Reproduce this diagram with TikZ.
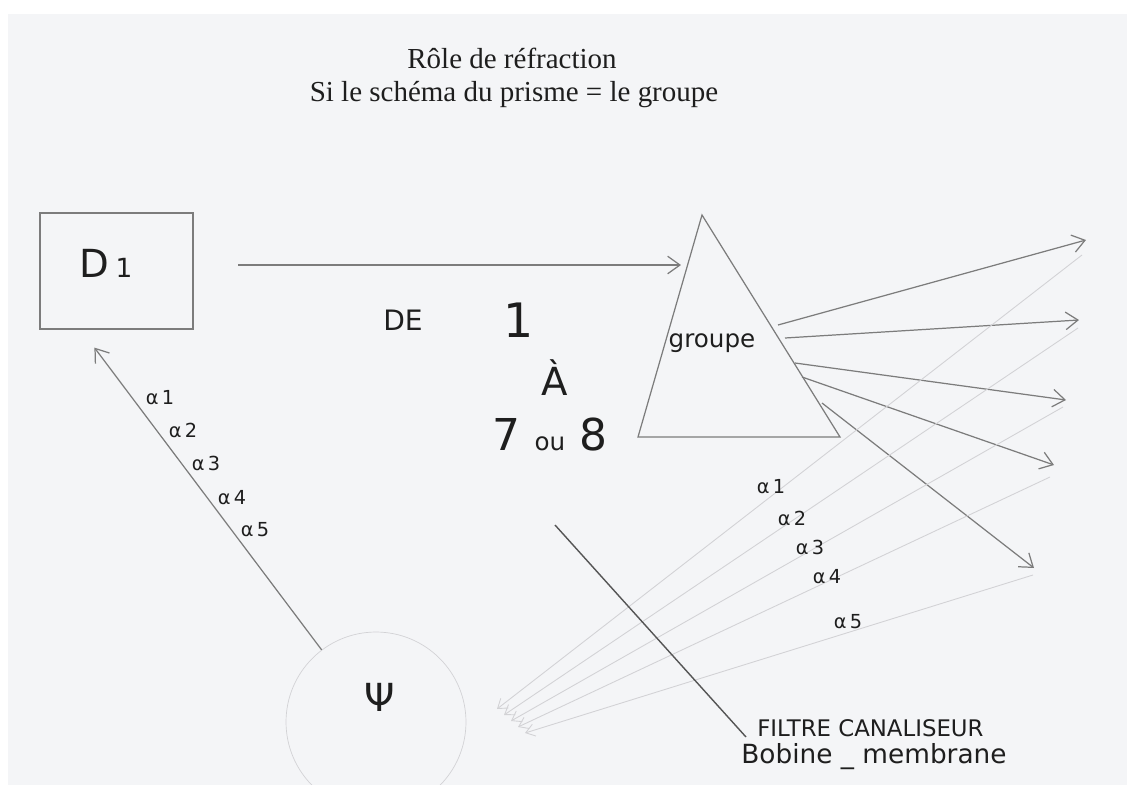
\documentclass[tikz,border=0pt]{standalone}
\usepackage{fontspec}
\setmainfont{Liberation Serif}
\newfontfamily\mainhand{DejaVu Sans}
\usetikzlibrary{arrows.meta,calc}
\definecolor{rfrpaper}{HTML}{F4F5F7}
\definecolor{rfrpencil}{HTML}{7C7C7C}
\definecolor{rfrdark}{HTML}{555555}
\definecolor{rfrghostc}{HTML}{D2D2D5}
\definecolor{rfrink}{HTML}{1E1E1E}

\begin{document}
\begin{tikzpicture}[x=0.02cm, y=-0.02cm,
  rfrline/.style = {draw=rfrpencil, line width=0.7pt},
  rfrghost/.style = {draw=rfrghostc, line width=0.5pt},
  rfrarr/.style = {rfrline, -{Straight Barb[length=7pt, width=10pt]}},
  rfrghostarr/.style = {rfrghost, -{Straight Barb[length=5pt, width=7pt]}},
  rfrhand/.style = {font=\mainhand, text=rfrink, inner sep=0pt},
  rfralpha/.style = {rfrhand, font=\mainhand\fontsize{11}{11}\selectfont}
]
  % feuille
  \useasboundingbox (0,0) rectangle (1127,785);
  \fill[rfrpaper] (8,14) rectangle (1140,800);
  % titre
  \node[font=\fontsize{16.5}{19}\selectfont, text=rfrink] (titre) at (512,58) {Rôle de réfraction};
  \node[font=\fontsize{16.5}{19}\selectfont, text=rfrink] (soustitre) at (514,95) {Si le schéma du prisme = le groupe};
  % boite D1
  \node[rfrline, minimum width=3.06cm, minimum height=2.32cm] (d1) at (116.5,271) {};
  \node[rfrhand, font=\mainhand\fontsize{22}{22}\selectfont] (d1txt) at (106,263) {D\,{\fontsize{15}{15}\selectfont 1}};
  % prisme
  \coordinate (apex) at (702,215);
  \coordinate (pbl) at (638,437);
  \coordinate (pbr) at (840,437);
  \draw[rfrline] (apex) -- (pbl) -- (pbr) -- cycle;
  \node[rfrhand, font=\mainhand\fontsize{14}{14}\selectfont] (groupe) at (712,343) {groupe};
  % faisceau incident
  \coordinate (inc0) at (238,265);
  \coordinate (inc1) at (681,265);
  \draw[rfrarr] (inc0) -- (inc1);
  % de 1 a 7 ou 8
  \node[rfrhand, font=\mainhand\fontsize{16}{16}\selectfont] (de) at (403,320) {DE};
  \node[rfrhand, font=\mainhand\fontsize{27}{27}\selectfont] (un) at (519,320) {1};
  \node[rfrhand, font=\mainhand\fontsize{22}{22}\selectfont] (a) at (555,378) {À};
  \node[rfrhand, font=\mainhand\fontsize{25}{25}\selectfont] (sept) at (550,435) {7 {\fontsize{14}{14}\selectfont ou} 8};
  % rayons refractes
  \foreach \sx/\sy/\ex/\ey [count=\i] in {778/325/1086/240, 785/338/1079/320, 795/363/1066/400, 802/377/1054/465, 822/403/1034/568}{
    \coordinate (rs\i) at (\sx,\sy);
    \coordinate (re\i) at (\ex,\ey);
    \draw[rfrarr] (rs\i) -- (re\i);
  }
  % retour vers psi
  \node[circle, draw=rfrghostc, minimum size=3.6cm] (psi) at (376,722) {};
  \node[rfrhand, font=\mainhand\fontsize{22}{22}\selectfont] (psitxt) at (380,697) {Ψ};
  \foreach \sx/\sy/\ex/\ey [count=\i] in {1082/255/497/709, 1078/328/504/715, 1063/407/511/721, 1050/477/518/727, 1033/575/525/733}{
    \coordinate (fs\i) at (\sx,\sy);
    \coordinate (fe\i) at (\ex,\ey);
    \draw[rfrghostarr] (fs\i) -- (fe\i);
  }
  \foreach \lx/\ly [count=\i] in {771/487, 792/518, 810/547, 827/577, 848/622}
    \node[rfralpha] (ad\i) at (\lx,\ly) {α\,\i};
  % psi vers D1
  \coordinate (d1in) at ($(d1.south west)+(55,18)$);
  \draw[rfrarr] (psi.127) -- (d1in);
  \foreach \lx/\ly [count=\i] in {160/398, 183/430, 206/463, 232/498, 255/530}
    \node[rfralpha] (ag\i) at (\lx,\ly) {α\,\i};
  % filtre
  \node[rfrhand, font=\mainhand\fontsize{13}{13}\selectfont, anchor=west] (filtre) at (757,728) {FILTRE CANALISEUR};
  \node[rfrhand, font=\mainhand\fontsize{15}{15}\selectfont, anchor=west] (bobine) at (741,757) {Bobine \_ membrane};
  \coordinate (ftop) at (555,525);
  \draw[rfrline, draw=rfrdark, line width=0.8pt] (ftop) -- ($(filtre.west)+(-11,9)$);
\end{tikzpicture}
\end{document}
